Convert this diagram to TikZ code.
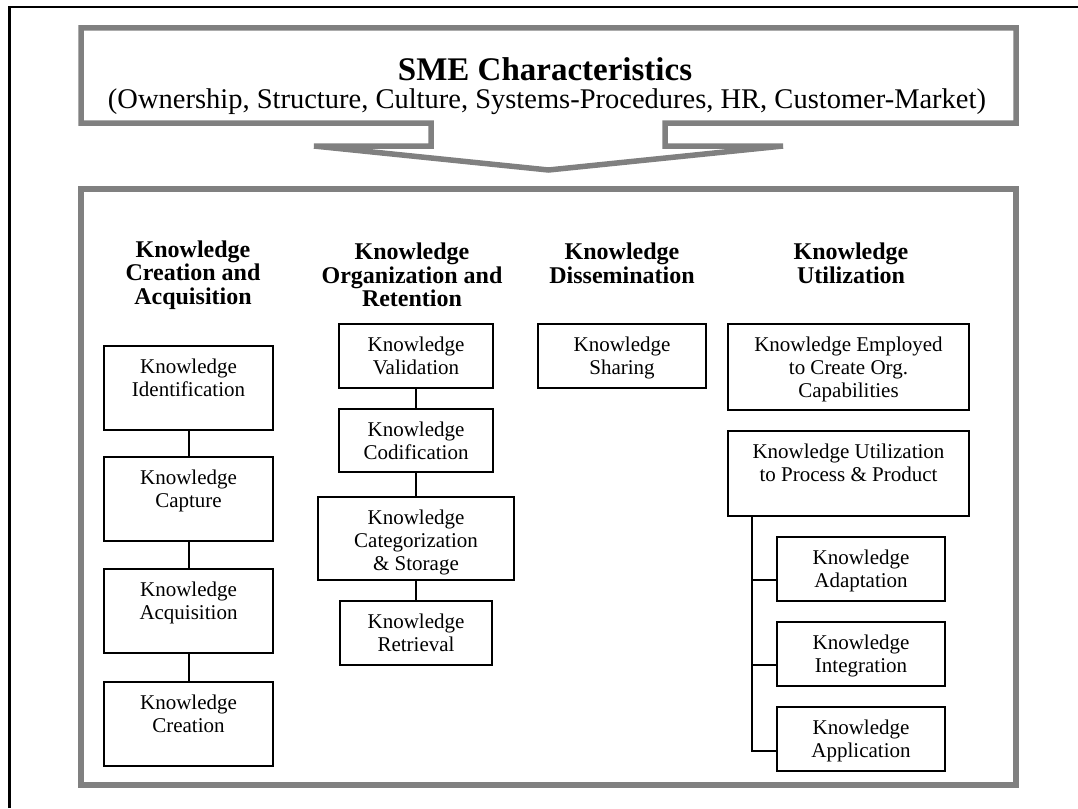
\documentclass[tikz,border=0pt]{standalone}
\usepackage{fontspec}
\setmainfont{Liberation Serif}
\usetikzlibrary{calc}
\definecolor{framegray}{RGB}{128,128,128}
\tikzset{
  kbox/.style={draw=black, line width=2pt, fill=white, inner sep=0pt, outer sep=0pt},
  gframe/.style={draw=framegray, line width=5.5pt, fill=white},
  txt/.style={font=\fontsize{21}{23}\selectfont, align=center, inner sep=0pt, anchor=north},
  hdr/.style={font=\bfseries\fontsize{24}{23.5}\selectfont, align=center, inner sep=0pt, anchor=north},
  conn/.style={draw=black, line width=2pt},
  outer/.style={draw=black, line width=2.5pt}
}
\begin{document}
\begin{tikzpicture}[x=1pt,y=-1pt]
\useasboundingbox (0,0) rectangle (1078,808);
% outer frame (left and top edges visible)
\coordinate (fbl) at (9.5,808);
\coordinate (ftl) at (9.5,7);
\coordinate (ftr) at (1078,7);
\draw[outer] (fbl) -- (ftl) -- (ftr);
% callout with arrow
\draw[gframe] (81,28) -- (1016,28) -- (1016,123) -- (665,123) -- (665,146) -- (783,146)
  -- (548.5,170) -- (314,146) -- (431,146) -- (431,123) -- (81,123) -- cycle;
\node[inner sep=0pt, anchor=base, font=\bfseries\fontsize{33}{35}\selectfont] (title) at (545,80) {SME Characteristics};
\node[inner sep=0pt, anchor=base, font=\fontsize{28.5}{30}\selectfont] (subtitle) at (547,108) {(Ownership, Structure, Culture, Systems-Procedures, HR, Customer-Market)};
% main frame
\node[gframe, minimum width=935pt, minimum height=596pt, inner sep=0pt] (main) at (548.5,487) {};
% headers
\node[hdr] (h1) at (193,240.5) {Knowledge\\Creation and\\Acquisition};
\node[hdr] (h2) at (412,243) {Knowledge\\Organization and\\Retention};
\node[hdr] (h3) at (622,243) {Knowledge\\Dissemination};
\node[hdr] (h4) at (851,243) {Knowledge\\Utilization};
% column 1
\node[kbox, minimum width=169pt, minimum height=84pt] (idt) at (188.5,388) {};
\node[kbox, minimum width=169pt, minimum height=84pt] (cap) at (188.5,499) {};
\node[kbox, minimum width=169pt, minimum height=84pt] (acq) at (188.5,611) {};
\node[kbox, minimum width=169pt, minimum height=84pt] (cre) at (188.5,723.5) {};
\node[txt] (idt-t) at (188.5,358.8) {Knowledge\\Identification};
\node[txt] (cap-t) at (188.5,469.8) {Knowledge\\Capture};
\node[txt] (acq-t) at (188.5,581.8) {Knowledge\\Acquisition};
\node[txt] (cre-t) at (188.5,694.3) {Knowledge\\Creation};
\draw[conn] (idt) -- (cap);
\draw[conn] (cap) -- (acq);
\draw[conn] (acq) -- (cre);
% column 2
\node[kbox, minimum width=154pt, minimum height=64pt] (val) at (416,356) {};
\node[kbox, minimum width=154pt, minimum height=63pt] (cod) at (416,440.5) {};
\node[kbox, minimum width=196pt, minimum height=83pt] (cat) at (416,538.5) {};
\node[kbox, minimum width=152pt, minimum height=64pt] (ret) at (416,633) {};
\node[txt] (val-t) at (416,336.8) {Knowledge\\Validation};
\node[txt] (cod-t) at (416,421.8) {Knowledge\\Codification};
\node[txt] (cat-t) at (416,509.8) {Knowledge\\Categorization\\\& Storage};
\node[txt] (ret-t) at (416,613.8) {Knowledge\\Retrieval};
\draw[conn] (val) -- (cod);
\draw[conn] (cod) -- (cat);
\draw[conn] (cat) -- (ret);
% column 3
\node[kbox, minimum width=168pt, minimum height=64pt] (sha) at (622,356) {};
\node[txt] (sha-t) at (622,336.8) {Knowledge\\Sharing};
% column 4
\node[kbox, minimum width=241pt, minimum height=86pt] (emp) at (848.5,367) {};
\node[kbox, minimum width=241pt, minimum height=85pt] (ktp) at (848.5,473.5) {};
\node[kbox, minimum width=168pt, minimum height=64pt] (ada) at (861,569) {};
\node[kbox, minimum width=168pt, minimum height=64pt] (int) at (861,654) {};
\node[kbox, minimum width=168pt, minimum height=64pt] (app) at (861,739) {};
\node[txt] (emp-t) at (848.5,336.8) {Knowledge Employed\\to Create Org.\\Capabilities};
\node[txt] (ktp-t) at (848.5,443.8) {Knowledge Utilization\\to Process \& Product};
\node[txt] (ada-t) at (861,549.8) {Knowledge\\Adaptation};
\node[txt] (int-t) at (861,634.8) {Knowledge\\Integration};
\node[txt] (app-t) at (861,719.8) {Knowledge\\Application};
\coordinate (trunk) at ($(ktp.south west)+(24,0)$);
\coordinate (sa) at ($(ada.west)+(0,11)$);
\coordinate (si) at ($(int.west)+(0,11)$);
\coordinate (sp) at ($(app.west)+(0,12)$);
\draw[conn] (trunk) |- (sp);
\draw[conn] (sa -| trunk) -- (sa);
\draw[conn] (si -| trunk) -- (si);
\end{tikzpicture}
\end{document}
